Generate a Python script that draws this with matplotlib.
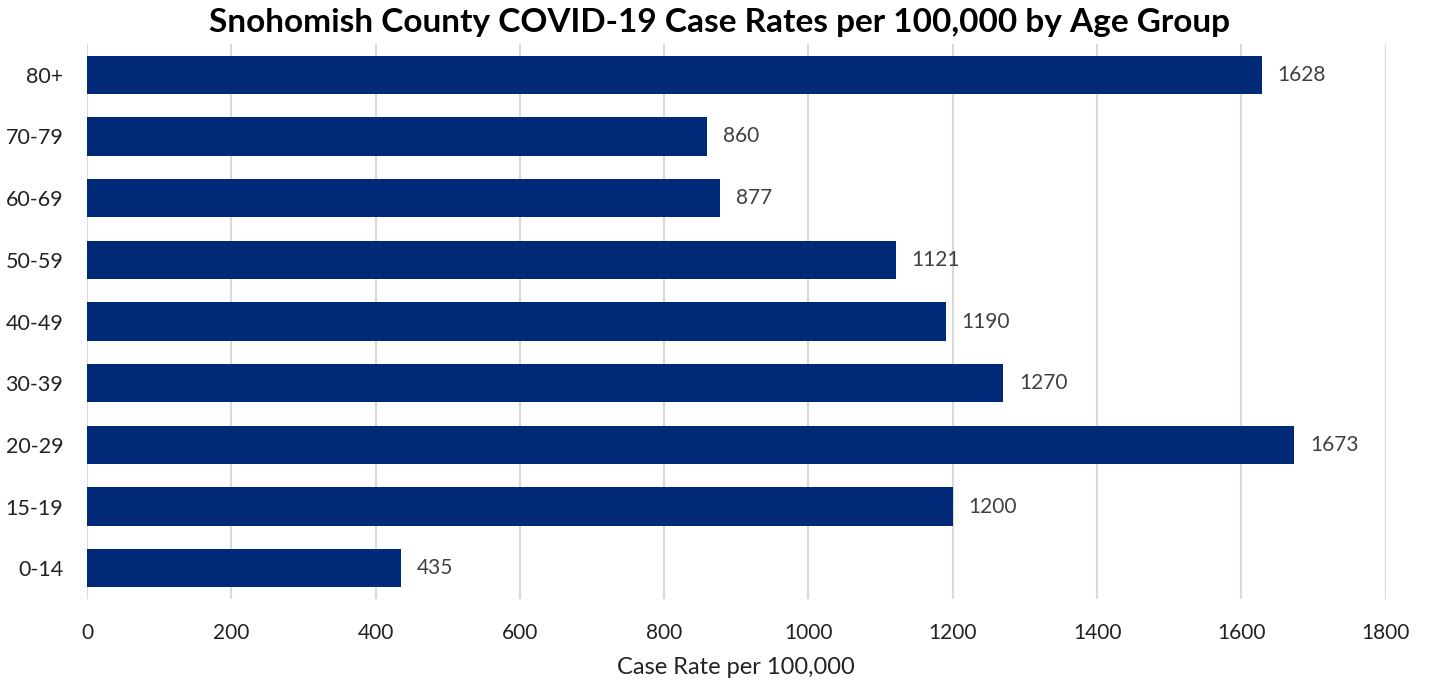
import matplotlib.pyplot as plt

plt.rcParams['font.family'] = ['Lato', 'DejaVu Sans']

age_groups = ['0-14', '15-19', '20-29', '30-39', '40-49', '50-59', '60-69', '70-79', '80+']
case_rates = [435, 1200, 1673, 1270, 1190, 1121, 877, 860, 1628]
x_ticks = [0, 200, 400, 600, 800, 1000, 1200, 1400, 1600, 1800]

fig = plt.figure(figsize=(14.3, 6.85), dpi=100)
ax = fig.add_axes([0.0608, 0.1255, 0.9082, 0.8103])

bars = ax.barh(range(len(age_groups)), case_rates, height=0.62, color='#002A77', zorder=3)
for i, v in enumerate(case_rates):
    ax.text(v + 22, i, str(v), va='center', ha='left', fontsize=15, color='#404040')

ax.set_yticks(range(len(age_groups)))
ax.set_yticklabels(age_groups, fontsize=15.5, color='#222222')
ax.set_xticks(x_ticks)
ax.set_xticklabels([str(t) for t in x_ticks], fontsize=15, color='#222222')
ax.set_xlim(0, 1800)
ax.set_ylim(-0.5, len(age_groups) - 0.5)
ax.tick_params(length=0)
ax.tick_params(axis='x', pad=17)
ax.tick_params(axis='y', pad=17)
ax.xaxis.grid(True, color='#D9D9D9', linewidth=1.5, zorder=0)
for s in ax.spines.values():
    s.set_visible(False)

ax.set_xlabel('Case Rate per 100,000', fontsize=17, color='#222222', labelpad=10)
fig.text(0.503, 0.967, 'Snohomish County COVID-19 Case Rates per 100,000 by Age Group',
         fontsize=24, fontweight='bold', ha='center', va='center')

fig.savefig('out.png')
